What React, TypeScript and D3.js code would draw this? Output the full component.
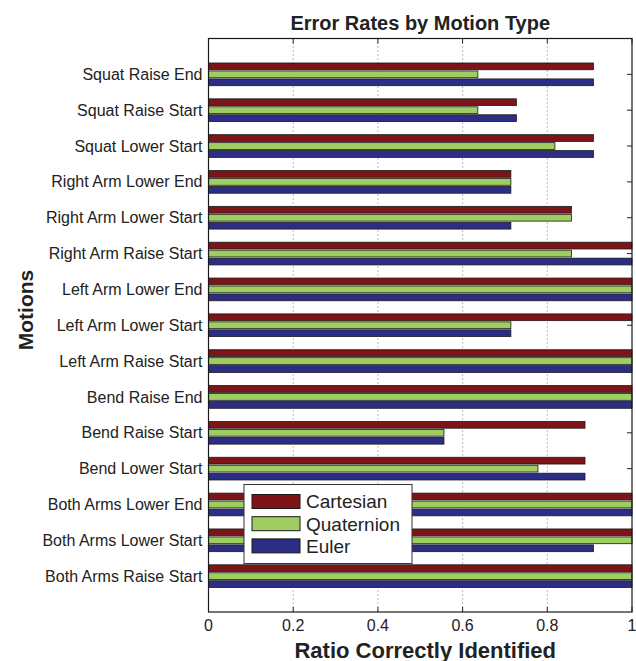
import React from "react";
import * as d3 from "d3";

const W = 636;
const H = 661;
const Margin = { top: 38.5, right: 4, bottom: 49, left: 208.5 };

// top-to-bottom order as drawn
const motions = [
  "Squat Raise End",
  "Squat Raise Start",
  "Squat Lower Start",
  "Right Arm Lower End",
  "Right Arm Lower Start",
  "Right Arm Raise Start",
  "Left Arm Lower End",
  "Left Arm Lower Start",
  "Left Arm Raise Start",
  "Bend Raise End",
  "Bend Raise Start",
  "Bend Lower Start",
  "Both Arms Lower End",
  "Both Arms Lower Start",
  "Both Arms Raise Start",
];

const seriesNames = ["Cartesian", "Quaternion", "Euler"];
const seriesColors = ["#7c1418", "#9fcd62", "#2b2e84"];

const cartesian = [0.909, 0.727, 0.909, 0.714, 0.857, 1, 1, 1, 1, 1, 0.889, 0.889, 1, 1, 1];
const quaternion = [0.636, 0.636, 0.818, 0.714, 0.857, 0.857, 1, 0.714, 1, 1, 0.556, 0.778, 1, 1, 1];
const euler = [0.909, 0.727, 0.909, 0.714, 0.714, 1, 1, 0.714, 1, 1, 0.556, 0.889, 1, 0.909, 1];

const xTicks = [0, 0.2, 0.4, 0.6, 0.8, 1];
const tickLabels = ["0", "0.2", "0.4", "0.6", "0.8", "1"];

const FONT = "'Liberation Sans', Arial, Helvetica, sans-serif";

const App = () => {
  const left = Margin.left;
  const right = W - Margin.right;
  const top = Margin.top;
  const bottom = H - Margin.bottom;

  const x = d3.scaleLinear().domain([0, 1]).range([left, right]);
  const y = d3
    .scaleBand<string>()
    .domain(motions)
    .range([top, bottom])
    .paddingInner(0)
    .paddingOuter(0.5);
  const groupSpan = y.step() * 0.667;
  const inner = d3
    .scaleBand<string>()
    .domain(seriesNames)
    .range([-groupSpan / 2, groupSpan / 2])
    .paddingInner(0.15)
    .paddingOuter(0.075);

  const values = [cartesian, quaternion, euler];

  return (
    <svg
      width={W}
      height={H}
      style={{ position: "absolute", left: 0, top: 0, background: "#fff" }}
      fontFamily={FONT}
    >
      <rect x={0} y={0} width={W} height={H} fill="#fff" />
      {/* dotted grid */}
      {xTicks.slice(1, -1).map((t) => (
        <line
          key={"g" + t}
          x1={x(t)}
          x2={x(t)}
          y1={top}
          y2={bottom}
          stroke="#777"
          strokeWidth={1}
          strokeDasharray="1,3"
        />
      ))}
      {/* tick marks */}
      {xTicks.map((t) => (
        <g key={"t" + t}>
          <line x1={x(t)} x2={x(t)} y1={top} y2={top + 5} stroke="#222" />
          <line x1={x(t)} x2={x(t)} y1={bottom} y2={bottom - 5} stroke="#222" />
        </g>
      ))}
      {motions.map((m) => {
        const cy = (y(m) as number) + y.bandwidth() / 2;
        return (
          <g key={"yt" + m}>
            <line x1={left} x2={left + 5} y1={cy} y2={cy} stroke="#222" />
            <line x1={right} x2={right - 5} y1={cy} y2={cy} stroke="#222" />
          </g>
        );
      })}
      {/* bars */}
      {motions.map((m, i) => {
        const cy = (y(m) as number) + y.bandwidth() / 2;
        return (
          <g key={"b" + m}>
            {seriesNames.map((s, j) => (
              <rect
                key={s}
                x={x(0)}
                y={cy + (inner(s) as number)}
                width={x(values[j][i]) - x(0)}
                height={inner.bandwidth()}
                fill={seriesColors[j]}
                stroke="#1a1a1a"
                strokeWidth={0.8}
              />
            ))}
          </g>
        );
      })}
      {/* frame */}
      <rect
        x={left}
        y={top}
        width={right - left}
        height={bottom - top}
        fill="none"
        stroke="#1a1a1a"
        strokeWidth={1.2}
      />
      {/* y tick labels */}
      {motions.map((m) => (
        <text
          key={"yl" + m}
          x={left - 6}
          y={(y(m) as number) + y.bandwidth() / 2}
          dy="0.35em"
          textAnchor="end"
          fontSize={16}
          fill="#222"
        >
          {m}
        </text>
      ))}
      {/* x tick labels */}
      {xTicks.map((t, i) => (
        <text
          key={"xl" + t}
          x={x(t)}
          y={bottom + 19}
          textAnchor="middle"
          fontSize={16}
          fill="#222"
        >
          {tickLabels[i]}
        </text>
      ))}
      <text
        x={(left + right) / 2}
        y={30}
        textAnchor="middle"
        fontSize={20}
        fontWeight="bold"
        fill="#222"
      >
        Error Rates by Motion Type
      </text>
      <text
        x={(left + right) / 2 + 5}
        y={bottom + 45.5}
        textAnchor="middle"
        fontSize={22}
        fontWeight="bold"
        fill="#222"
      >
        Ratio Correctly Identified
      </text>
      <text
        transform="translate(33, 310) rotate(-90)"
        textAnchor="middle"
        fontSize={21}
        fontWeight="bold"
        fill="#222"
      >
        Motions
      </text>
      {/* legend */}
      <g transform="translate(244, 484.5)">
        <rect x={0} y={0} width={168} height={79} fill="#fff" stroke="#333" strokeWidth={1} />
        {seriesNames.map((s, j) => (
          <g key={"lg" + s} transform={`translate(8, ${10 + j * 22.2})`}>
            <rect x={0} y={0} width={48} height={14} fill={seriesColors[j]} stroke="#1a1a1a" strokeWidth={1} />
            <text x={54} y={7} dy="0.36em" fontSize={19} fill="#222">
              {s}
            </text>
          </g>
        ))}
      </g>
    </svg>
  );
};

export default App;
